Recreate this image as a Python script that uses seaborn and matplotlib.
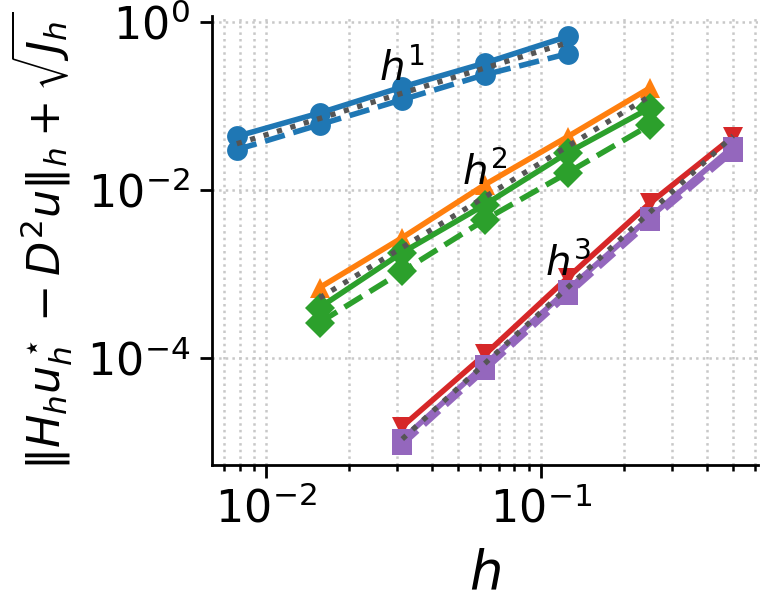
import matplotlib
matplotlib.use("Agg")
import matplotlib.pyplot as plt
import matplotlib.ticker as mticker
import seaborn as sns

# Data
h_a = [0.0078125, 0.015625, 0.03125, 0.0625, 0.125]
h_b = [0.015625, 0.03125, 0.0625, 0.125, 0.25]
h_c = [0.03125, 0.0625, 0.125, 0.25, 0.5]

blue_solid = [0.0431, 0.0818, 0.167, 0.322, 0.668]
blue_dashed = [0.0299, 0.0594, 0.118, 0.234, 0.416]
orange_solid = [6.8e-4, 2.68e-3, 0.0115, 0.0428, 0.164]
green_solid = [3.94e-4, 1.78e-3, 6.63e-3, 0.0276, 0.0947]
green_dashed = [2.61e-4, 1.06e-3, 4.39e-3, 0.0159, 0.0594]
red_solid = [1.51e-5, 1.09e-4, 8.96e-4, 7.0e-3, 0.0428]
purple_solid = [1.06e-5, 8.26e-5, 6.45e-4, 4.77e-3, 0.0325]
purple_dashed = [9.2e-6, 7.2e-5, 5.6e-4, 4.2e-3, 0.0284]

# reference slopes h^1, h^2, h^3
ref1 = [0.0352, 0.0703, 0.141, 0.281, 0.5625]
ref2 = [5.13e-4, 2.05e-3, 8.2e-3, 0.0328, 0.131]
ref3 = [1.07e-5, 8.54e-5, 6.84e-4, 5.47e-3, 0.0438]
ref_labels = ["$h^1$", "$h^2$", "$h^3$"]

sns.set_style("ticks")
plt.rcParams["font.family"] = ["DejaVu Sans"]
plt.rcParams["mathtext.fontset"] = "dejavusans"
for key in ["text.color", "axes.labelcolor", "xtick.color", "ytick.color",
            "axes.edgecolor"]:
    plt.rcParams[key] = "black"
pal = sns.color_palette("tab10")

fig = plt.figure(figsize=(3.805, 2.96), dpi=200)
ax = fig.add_axes([212 / 761, 1 - 465 / 592, (758 - 212) / 761, (465 - 16) / 592])

lw = 2.0
ms = 7.5
series = [
    (h_a, blue_solid, pal[0], "o", "-"),
    (h_a, blue_dashed, pal[0], "o", "--"),
    (h_b, orange_solid, pal[1], "^", "-"),
    (h_b, green_solid, pal[2], "D", "-"),
    (h_b, green_dashed, pal[2], "D", "--"),
    (h_c, red_solid, pal[3], "v", "-"),
    (h_c, purple_solid, pal[4], "s", "-"),
    (h_c, purple_dashed, pal[4], "s", "--"),
]
for x, y, c, m, ls in series:
    sns.lineplot(x=x, y=y, ax=ax, color=c, marker=m, linestyle=ls,
                 linewidth=lw, markersize=ms, markeredgewidth=0)

for x, y in [(h_a, ref1), (h_b, ref2), (h_c, ref3)]:
    sns.lineplot(x=x, y=y, ax=ax, color="#555555", linestyle=":",
                 linewidth=1.9)

ax.set_xscale("log")
ax.set_yscale("log")
ax.yaxis.set_minor_locator(mticker.NullLocator())
ax.yaxis.set_major_locator(mticker.FixedLocator([1e-4, 1e-2, 1e0]))

# slope labels above the middle point of each reference line
for x, y, lab in [(h_a, ref1, ref_labels[0]), (h_b, ref2, ref_labels[1]),
                  (h_c, ref3, ref_labels[2])]:
    ax.text(x[2], y[2] * 1.9, lab, ha="center", va="center", fontsize=14.5)

ax.grid(which="both", linestyle=":", color="#c8c8c8", linewidth=0.9)
ax.set_axisbelow(True)
ax.tick_params(which="major", labelsize=16, length=4.5, width=1.0)
ax.tick_params(which="minor", length=2.2, width=0.9)
for s in ["left", "bottom"]:
    ax.spines[s].set_linewidth(1.0)
sns.despine(ax=ax)

ax.set_xlabel("$h$", fontsize=19, labelpad=6)
ax.set_ylabel(r"$\|H_h u_h^\star - D^2 u\|_h + \sqrt{J_h}$", fontsize=16)

fig.savefig("out.png", dpi=200)
